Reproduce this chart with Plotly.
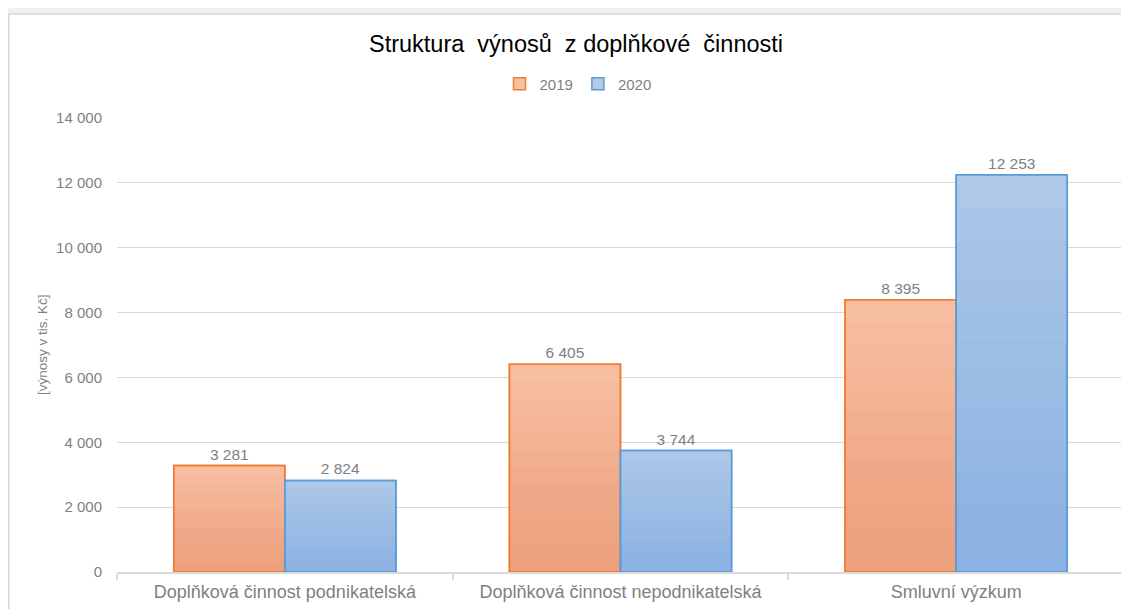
import plotly.graph_objects as go

categories = ["Doplňková činnost podnikatelská", "Doplňková činnost nepodnikatelská", "Smluvní výzkum"]
values_2019 = [3281, 6405, 8395]
values_2020 = [2824, 3744, 12253]
series_names = ["2019", "2020"]
title_text = "Struktura  výnosů  z doplňkové  činnosti"
y_title = "[výnosy v tis. Kč]"
y_ticks = [0, 2000, 4000, 6000, 8000, 10000, 12000, 14000]

FONT = "Liberation Sans, Arial, sans-serif"
GRAY = "#7f7f7f"

styles = {
    "2019": dict(top="#f8c1a6", line="#ed7d31", overlay="rgba(237,125,49,0.036)"),
    "2020": dict(top="#b1cbe9", line="#5b9bd5", overlay="rgba(91,155,213,0.036)"),
}

fig = go.Figure()
N_LAYERS = 12
for name, vals in zip(series_names, [values_2019, values_2020]):
    st = styles[name]
    fig.add_trace(go.Bar(
        x=categories, y=vals, name=name, offsetgroup=name,
        marker=dict(color=st["top"], line=dict(color=st["line"], width=1.5)),
        texttemplate="%{y:,d}", textposition="outside",
        textfont=dict(family=FONT, size=15.5, color=GRAY),
        cliponaxis=False, hoverinfo="skip",
    ))
    for i in range(1, N_LAYERS + 1):
        frac = i / N_LAYERS
        fig.add_trace(go.Bar(
            x=categories, y=[v * frac for v in vals], offsetgroup=name,
            marker=dict(color=st["overlay"], line=dict(width=0)),
            showlegend=False, hoverinfo="skip",
        ))
    fig.add_trace(go.Bar(
        x=categories, y=vals, offsetgroup=name,
        marker=dict(color="rgba(0,0,0,0)", line=dict(color=st["line"], width=1.5)),
        showlegend=False, hoverinfo="skip",
    ))

# page has an 8px body margin, so the figure is drawn offset by (8, 8)
W, H = 1121, 601
L, R, T, B = 109, 5, 110, 37
pw, ph = W - L - R, H - T - B

def px_to_paper_x(px):
    return (px - L) / pw

def py_to_paper_y(py):
    return (H - B - py) / ph

fig.add_shape(type="rect", xref="paper", yref="paper",
              x0=px_to_paper_x(0.75), x1=px_to_paper_x(1150),
              y0=py_to_paper_y(640), y1=py_to_paper_y(6),
              fillcolor="white", line=dict(color="#d6d6d6", width=1.5), layer="below")

fig.add_annotation(text=y_title, xref="paper", yref="paper",
                   x=px_to_paper_x(34), y=0.5, xanchor="center", yanchor="middle",
                   textangle=-90, showarrow=False,
                   font=dict(family=FONT, size=13.5, color=GRAY))

fig.update_layout(
    width=W, height=H,
    margin=dict(l=L, r=R, t=T, b=B),
    paper_bgcolor="#f1f1f1",
    plot_bgcolor="rgba(0,0,0,0)",
    separators=", ",
    barmode="group", bargap=0.338, bargroupgap=0,
    title=dict(text=title_text, x=568 / W, xref="container", xanchor="center",
               y=1 - 36 / H, yref="container", yanchor="middle",
               font=dict(family=FONT, size=23.5, color="#000000")),
    legend=dict(orientation="h", x=570 / W, xanchor="center", xref="container",
                y=1 - 76 / H, yref="container", yanchor="middle",
                font=dict(family=FONT, size=15, color=GRAY),
                itemwidth=30, bgcolor="rgba(0,0,0,0)", traceorder="normal"),
    font=dict(family=FONT, color=GRAY),
    showlegend=True,
)

fig.update_yaxes(
    range=[0, 14000], tickvals=y_ticks, tickformat=",d",
    showgrid=True, gridcolor="#d9d9d9", gridwidth=1,
    zeroline=False, showline=False, ticks="",
    tickfont=dict(family=FONT, size=15, color=GRAY),
    ticklabelstandoff=14, automargin=False,
)
fig.update_xaxes(
    showline=True, linecolor="#d9d9d9", linewidth=1.5,
    ticks="outside", tickson="boundaries", ticklen=6, tickcolor="#d9d9d9", tickwidth=1.5,
    tickfont=dict(family=FONT, size=18, color=GRAY),
    ticklabelstandoff=3,
    automargin=False, showgrid=False,
)

fig.write_html("out.html")
